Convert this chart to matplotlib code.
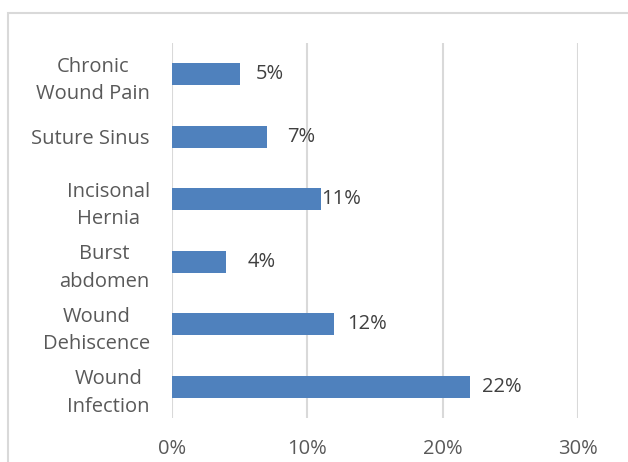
import matplotlib
matplotlib.use('Agg')
import matplotlib.pyplot as plt
from matplotlib.patches import Rectangle

plt.rcParams['font.family'] = ['Open Sans', 'DejaVu Sans']

# bottom to top
categories = ["Wound\nInfection", "Wound\nDehiscence", "Burst\nabdomen",
              "Incisonal\nHernia", "Suture Sinus", "Chronic\nWound Pain"]
values = [22, 12, 4, 11, 7, 5]
value_labels = ["22%", "12%", "4%", "11%", "7%", "5%"]
# label offsets (px) as placed in the original
label_offsets = [12, 13, 21, 0, 20, 16]

fig = plt.figure(figsize=(6.28, 4.62), dpi=100)
fig.patches.append(Rectangle((8/628, -0.1), 1.0, 1 - 13/462 + 0.1,
                             transform=fig.transFigure, fill=False,
                             edgecolor='#d9d9d9', linewidth=1.5))
ax = fig.add_axes([172/628, 44/462, 406/628, 375/462])

ypos = list(range(len(categories)))
ax.barh(ypos, values, height=0.35, color='#4F81BD', zorder=3)

for y, v, lab, off in zip(ypos, values, value_labels, label_offsets):
    ax.annotate(lab, (v, y), xytext=(off * 0.72, 0), textcoords='offset points',
                ha='left', va='center', fontsize=14.5, color='#404040', zorder=4)

ax.set_xlim(0, 30)
ax.set_ylim(-0.5, 5.5)
ax.set_xticks([0, 10, 20, 30])
ax.set_xticklabels(["0%", "10%", "20%", "30%"])
ax.set_yticks(ypos)
ax.set_yticklabels(categories, multialignment='center', linespacing=1.5)
ax.tick_params(axis='both', length=0, labelsize=14.5, labelcolor='#595959')
ax.tick_params(axis='y', pad=16)
ax.tick_params(axis='x', pad=15)
ax.grid(axis='x', color='#d9d9d9', linewidth=1.5, zorder=0)
for s in ax.spines.values():
    s.set_visible(False)

plt.savefig('out.png', dpi=100)
